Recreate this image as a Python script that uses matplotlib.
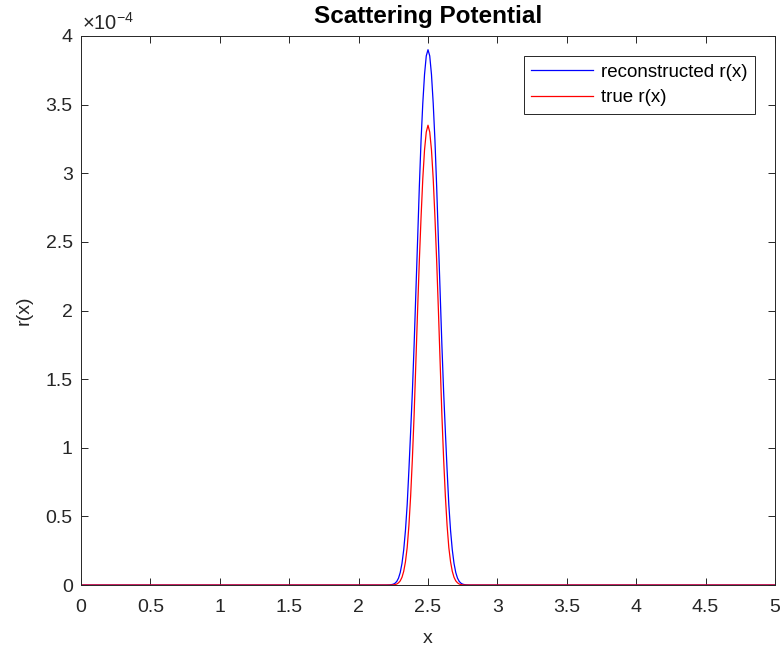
import matplotlib
matplotlib.use("Agg")
import matplotlib.pyplot as plt

plt.rcParams['font.family'] = ['Liberation Sans', 'DejaVu Sans']

# samples (y in units of 1e-4)
x_vals = [0.0,
          2.2, 2.2125, 2.225, 2.2375, 2.25, 2.2625, 2.275, 2.2875, 2.3, 2.3125,
          2.325, 2.3375, 2.35, 2.3625, 2.375, 2.3875, 2.4, 2.4125, 2.425, 2.4375,
          2.45, 2.4625, 2.475, 2.4875,
          2.5,
          2.5125, 2.525, 2.5375, 2.55, 2.5625, 2.575, 2.5875, 2.6, 2.6125, 2.625,
          2.6375, 2.65, 2.6625, 2.675, 2.6875, 2.7, 2.7125, 2.725, 2.7375, 2.75,
          2.7625, 2.775, 2.7875, 2.8,
          5.0]
recon_r = [0.0,
           0.0, 0.0005, 0.001, 0.003, 0.006, 0.013, 0.026, 0.050, 0.091, 0.157,
           0.256, 0.397, 0.585, 0.84, 1.12, 1.41, 1.75, 2.13, 2.51, 2.90,
           3.24, 3.51, 3.72, 3.855,
           3.90,
           3.855, 3.72, 3.51, 3.24, 2.90, 2.51, 2.13, 1.75, 1.41, 1.12,
           0.84, 0.585, 0.397, 0.256, 0.157, 0.091, 0.050, 0.026, 0.013, 0.006,
           0.003, 0.001, 0.0005, 0.0,
           0.0]
true_r = [0.0,
          0.0, 0.0, 0.0, 0.0005, 0.001, 0.003, 0.007, 0.016, 0.030, 0.056,
          0.0995, 0.169, 0.273, 0.434, 0.65, 0.92, 1.24, 1.62, 2.00, 2.36,
          2.68, 2.96, 3.17, 3.30,
          3.35,
          3.30, 3.17, 2.96, 2.68, 2.36, 2.00, 1.62, 1.24, 0.92, 0.65,
          0.434, 0.273, 0.169, 0.0995, 0.056, 0.030, 0.016, 0.007, 0.003, 0.001,
          0.0005, 0.0, 0.0, 0.0,
          0.0]
scale = 1e-4

x_ticks = [0, 0.5, 1, 1.5, 2, 2.5, 3, 3.5, 4, 4.5, 5]
y_ticks = [0, 0.5, 1, 1.5, 2, 2.5, 3, 3.5, 4]

fig = plt.figure(figsize=(7.82, 6.53), dpi=100)
ax = fig.add_axes([81 / 782, 68 / 653, 694 / 782, 549 / 653])

ax.plot(x_vals, [v * scale for v in recon_r], color=(0, 0, 1), lw=0.9, label='reconstructed r(x)')
ax.plot(x_vals, [v * scale for v in true_r], color=(1, 0, 0), lw=0.9, label='true r(x)')

ax.set_xlim(0, 5)
ax.set_ylim(0, 4 * scale)
ax.set_xticks(x_ticks)
ax.set_xticklabels([f'{t:g}' for t in x_ticks])
ax.set_yticks([t * scale for t in y_ticks])
ax.set_yticklabels([f'{t:g}' for t in y_ticks])

grey = (0.15, 0.15, 0.15)
for s in ax.spines.values():
    s.set_color(grey)
    s.set_linewidth(0.7)
ax.tick_params(direction='in', length=5, width=0.7, colors=grey, labelsize=14,
               top=True, right=True)
ax.tick_params(axis='x', pad=10)
ax.tick_params(axis='y', pad=6)

# exponent label in MATLAB style
ax.text(0.002, 1.004, '×10$^{\\mathregular{-4}}$', transform=ax.transAxes, ha='left',
        va='bottom', fontsize=14.5, color=grey)

ax.set_xlabel('x', fontsize=14, color=grey, labelpad=10)
ax.set_ylabel('r(x)', fontsize=14, color=grey, labelpad=9)
ax.set_title('Scattering Potential', fontsize=17.5, fontweight='bold', pad=9)

leg = ax.legend(loc='upper right', bbox_to_anchor=(0.971, 0.9636), borderaxespad=0,
                fontsize=13.5, handlelength=3.3, handletextpad=0.4, labelspacing=0.45,
                borderpad=0.4, fancybox=False, framealpha=1)
leg.get_frame().set_edgecolor(grey)
leg.get_frame().set_linewidth(0.7)

fig.savefig('out.png', dpi=100)
